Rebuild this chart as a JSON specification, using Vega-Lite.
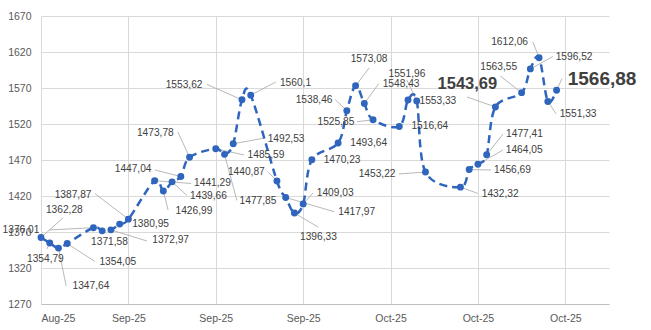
{
  "$schema": "https://vega.github.io/schema/vega-lite/v6.json",
  "width": 568,
  "height": 288,
  "autosize": {"type": "none"},
  "padding": {"left": 41, "top": 16, "right": 42, "bottom": 26},
  "background": "white",
  "config": {
    "locale": {"number": {"decimal": ",", "thousands": ".", "grouping": [3], "currency": ["", ""]}},
    "view": {"stroke": null},
    "font": "Liberation Sans",
    "axisX": {
      "title": null, "format": "%b-%y",
      "grid": true, "gridColor": "#d9d9d9", "gridWidth": 1,
      "ticks": false, "domainColor": "#bfbfbf", "domainWidth": 1,
      "labelFont": "Liberation Sans", "labelFontSize": 10.5, "labelColor": "#595959",
      "labelPadding": 9, "labelAngle": 0, "tickCount": 30
    },
    "axisY": {
      "title": null, "format": "d", "grid": true, "gridColor": "#d9d9d9", "gridWidth": 1,
      "ticks": false, "domain": false,
      "labelFont": "Liberation Sans", "labelFontSize": 10.5, "labelColor": "#595959",
      "labelPadding": 10, "tickCount": 30
    }
  },
  "data": {"values": [
    {"date": "2025-08-26", "value": 1362.28, "tx": "2025-08-28T16:00:00Z", "ty": 1400, "ex": "2025-08-28T12:00:00Z", "ey": 1389.4},
    {"date": "2025-08-27", "value": 1354.79, "tx": "2025-08-26T12:00:00Z", "ty": 1332.5, "ex": "2025-08-26T16:00:00Z", "ey": 1346.4},
    {"date": "2025-08-28", "value": 1347.64, "tx": "2025-08-31T17:00:00Z", "ty": 1295, "ex": "2025-08-28T21:00:00Z", "ey": 1295},
    {"date": "2025-08-29", "value": 1354.05, "tx": "2025-09-03T19:00:00Z", "ty": 1329, "ex": "2025-09-01T04:00:00Z", "ey": 1329},
    {"date": "2025-09-01", "value": 1376.01, "tx": "2025-08-23T17:00:00Z", "ty": 1372.8, "ex": "2025-08-26T22:00:00Z", "ey": 1372.8},
    {"date": "2025-09-02", "value": 1371.58, "tx": "2025-09-02T20:00:00Z", "ty": 1356.1},
    {"date": "2025-09-03", "value": 1372.97, "tx": "2025-09-09T20:00:00Z", "ty": 1358.2, "ex": "2025-09-07T03:00:00Z", "ey": 1357.5},
    {"date": "2025-09-04", "value": 1380.95, "tx": "2025-09-07T13:00:00Z", "ty": 1381.1},
    {"date": "2025-09-05", "value": 1387.87, "tx": "2025-08-29T16:00:00Z", "ty": 1421.4, "ex": "2025-09-01T04:00:00Z", "ey": 1423.5},
    {"date": "2025-09-08", "value": 1441.29, "tx": "2025-09-14T15:00:00Z", "ty": 1437.4, "ex": "2025-09-12T04:00:00Z", "ey": 1437.4},
    {"date": "2025-09-09", "value": 1426.99, "tx": "2025-09-12T12:00:00Z", "ty": 1399.2, "ex": "2025-09-09T13:00:00Z", "ey": 1400.6},
    {"date": "2025-09-10", "value": 1439.66, "tx": "2025-09-14T04:00:00Z", "ty": 1420, "ex": "2025-09-11T17:00:00Z", "ey": 1420.7},
    {"date": "2025-09-11", "value": 1447.04, "tx": "2025-09-05T13:00:00Z", "ty": 1457.5, "ex": "2025-09-08T01:00:00Z", "ey": 1456.1},
    {"date": "2025-09-12", "value": 1473.78, "tx": "2025-09-08T02:00:00Z", "ty": 1507.5, "ex": "2025-09-10T16:00:00Z", "ey": 1508.9},
    {"date": "2025-09-15", "value": 1485.59, "tx": "2025-09-20T18:00:00Z", "ty": 1476.3, "ex": "2025-09-18T06:00:00Z", "ey": 1477},
    {"date": "2025-09-16", "value": 1477.85, "tx": "2025-09-19T20:00:00Z", "ty": 1412.4, "ex": "2025-09-17T10:00:00Z", "ey": 1413.8},
    {"date": "2025-09-17", "value": 1492.53, "tx": "2025-09-23T01:00:00Z", "ty": 1499.6, "ex": "2025-09-20T15:00:00Z", "ey": 1500.6},
    {"date": "2025-09-18", "value": 1553.62, "tx": "2025-09-11T09:00:00Z", "ty": 1573.75, "ex": "2025-09-14T00:00:00Z", "ey": 1574.9},
    {"date": "2025-09-19", "value": 1560.1, "tx": "2025-09-24T03:00:00Z", "ty": 1577.2, "ex": "2025-09-21T21:00:00Z", "ey": 1578.3},
    {"date": "2025-09-22", "value": 1440.87, "tx": "2025-09-18T12:00:00Z", "ty": 1453.75, "ex": "2025-09-20T23:00:00Z", "ey": 1453.75},
    {"date": "2025-09-23", "value": 1417.97, "tx": "2025-10-01T03:00:00Z", "ty": 1397.8, "ex": "2025-09-28T13:00:00Z", "ey": 1398.2},
    {"date": "2025-09-24", "value": 1396.33, "tx": "2025-09-26T18:00:00Z", "ty": 1363.5, "ex": "2025-09-26T17:00:00Z", "ey": 1376.9},
    {"date": "2025-09-25", "value": 1409.03, "tx": "2025-09-28T16:00:00Z", "ty": 1424.4, "ex": "2025-09-26T03:00:00Z", "ey": 1424.2},
    {"date": "2025-09-26", "value": 1470.23, "tx": "2025-09-29T11:00:00Z", "ty": 1470},
    {"date": "2025-09-29", "value": 1493.64, "tx": "2025-10-02T12:00:00Z", "ty": 1493.9},
    {"date": "2025-09-30", "value": 1538.46, "tx": "2025-09-26T06:00:00Z", "ty": 1553.75, "ex": "2025-09-28T16:00:00Z", "ey": 1554},
    {"date": "2025-10-01", "value": 1573.08, "tx": "2025-10-02T13:00:00Z", "ty": 1609.6, "ex": "2025-10-02T13:00:00Z", "ey": 1597.8},
    {"date": "2025-10-02", "value": 1548.43, "tx": "2025-10-06T05:00:00Z", "ty": 1575.8, "ex": "2025-10-03T16:00:00Z", "ey": 1576.25},
    {"date": "2025-10-03", "value": 1525.85, "tx": "2025-09-28T18:00:00Z", "ty": 1522.8, "ex": "2025-10-01T04:00:00Z", "ey": 1523.2},
    {"date": "2025-10-06", "value": 1516.64, "tx": "2025-10-09T12:00:00Z", "ty": 1516.9},
    {"date": "2025-10-07", "value": 1553.33, "tx": "2025-10-10T10:00:00Z", "ty": 1552.6},
    {"date": "2025-10-08", "value": 1551.96, "tx": "2025-10-06T21:00:00Z", "ty": 1589.2, "ex": "2025-10-06T21:00:00Z", "ey": 1581.1},
    {"date": "2025-10-09", "value": 1453.22, "tx": "2025-10-03T11:00:00Z", "ty": 1450.3, "ex": "2025-10-05T23:00:00Z", "ey": 1450.6},
    {"date": "2025-10-13", "value": 1432.32, "tx": "2025-10-17T13:00:00Z", "ty": 1422.8, "ex": "2025-10-15T00:00:00Z", "ey": 1423.5},
    {"date": "2025-10-14", "value": 1456.69, "tx": "2025-10-18T23:00:00Z", "ty": 1456.1, "ex": "2025-10-16T12:00:00Z", "ey": 1456.1},
    {"date": "2025-10-15", "value": 1464.05, "tx": "2025-10-20T07:00:00Z", "ty": 1484.3, "ex": "2025-10-17T21:00:00Z", "ey": 1483.9},
    {"date": "2025-10-16", "value": 1477.41, "tx": "2025-10-20T08:00:00Z", "ty": 1505.7, "ex": "2025-10-17T21:00:00Z", "ey": 1506.1},
    {"date": "2025-10-17", "value": 1543.69, "tx": "2025-10-13T19:00:00Z", "ty": 1574.9, "ex": "2025-10-13T18:00:00Z", "ey": 1557.5},
    {"date": "2025-10-20", "value": 1563.55, "tx": "2025-10-17T09:00:00Z", "ty": 1598.9, "ex": "2025-10-17T13:00:00Z", "ey": 1586.7},
    {"date": "2025-10-21", "value": 1596.52, "tx": "2025-10-26T00:00:00Z", "ty": 1613.3, "ex": "2025-10-23T14:00:00Z", "ey": 1613.75},
    {"date": "2025-10-22", "value": 1612.06, "tx": "2025-10-18T15:00:00Z", "ty": 1633.2, "ex": "2025-10-21T07:00:00Z", "ey": 1633.9},
    {"date": "2025-10-23", "value": 1551.33, "tx": "2025-10-26T11:00:00Z", "ty": 1533.6, "ex": "2025-10-23T23:00:00Z", "ey": 1533.9},
    {"date": "2025-10-24", "value": 1566.88, "tx": "2025-10-29T05:00:00Z", "ty": 1582.8, "ex": "2025-10-24T15:00:00Z", "ey": 1583.2}
  ]},
  "layer": [
    {
      "mark": {"type": "rule", "color": "#a6a6a6", "strokeWidth": 0.8},
      "transform": [{"filter": "isValid(datum.ex)"}],
      "encoding": {
        "x": {"field": "date", "type": "temporal",
          "scale": {"type": "utc", "domain": [{"year": 2025, "month": 8, "date": 26, "utc": true}, {"year": 2025, "month": 10, "date": 30, "utc": true}]},
          "axis": {
            "values": [
              {"year": 2025, "month": 8, "date": 26, "utc": true},
              {"year": 2025, "month": 9, "date": 5, "utc": true},
              {"year": 2025, "month": 9, "date": 15, "utc": true},
              {"year": 2025, "month": 9, "date": 25, "utc": true},
              {"year": 2025, "month": 10, "date": 5, "utc": true},
              {"year": 2025, "month": 10, "date": 15, "utc": true},
              {"year": 2025, "month": 10, "date": 25, "utc": true}
            ],
            "tickCount": 30
          }
        },
        "x2": {"field": "ex"},
        "y": {"field": "value", "type": "quantitative",
          "scale": {"domain": [1270, 1670], "nice": false, "zero": false},
          "axis": {"values": [1270, 1320, 1370, 1420, 1470, 1520, 1570, 1620, 1670], "tickCount": 30}
        },
        "y2": {"field": "ey"}
      }
    },
    {
      "mark": {"type": "line", "interpolate": "cardinal", "tension": 0, "color": "#2f65bd", "strokeWidth": 2.5, "strokeDash": [8, 5]},
      "encoding": {
        "x": {"field": "date", "type": "temporal"},
        "y": {"field": "value", "type": "quantitative"}
      }
    },
    {
      "mark": {"type": "circle", "color": "#2f65bd", "opacity": 1, "size": 48},
      "encoding": {
        "x": {"field": "date", "type": "temporal"},
        "y": {"field": "value", "type": "quantitative"}
      }
    },
    {
      "transform": [{"filter": "datum.value != 1543.69 && datum.value != 1566.88"}],
      "mark": {"type": "text", "font": "Liberation Sans", "fontSize": 10.2, "color": "#404040", "align": "center", "baseline": "middle"},
      "encoding": {
        "x": {"field": "tx", "type": "temporal"},
        "y": {"field": "ty", "type": "quantitative"},
        "text": {"field": "value", "type": "quantitative", "format": ".2~f"}
      }
    },
    {
      "transform": [{"filter": "datum.value == 1543.69 || datum.value == 1566.88"}],
      "mark": {"type": "text", "font": "Liberation Sans", "fontWeight": "bold", "color": "#404040", "align": "center", "baseline": "middle"},
      "encoding": {
        "x": {"field": "tx", "type": "temporal"},
        "y": {"field": "ty", "type": "quantitative"},
        "size": {"condition": {"test": "datum.value == 1566.88", "value": 19}, "value": 16.5},
        "text": {"field": "value", "type": "quantitative", "format": ".2~f"}
      }
    }
  ]
}
